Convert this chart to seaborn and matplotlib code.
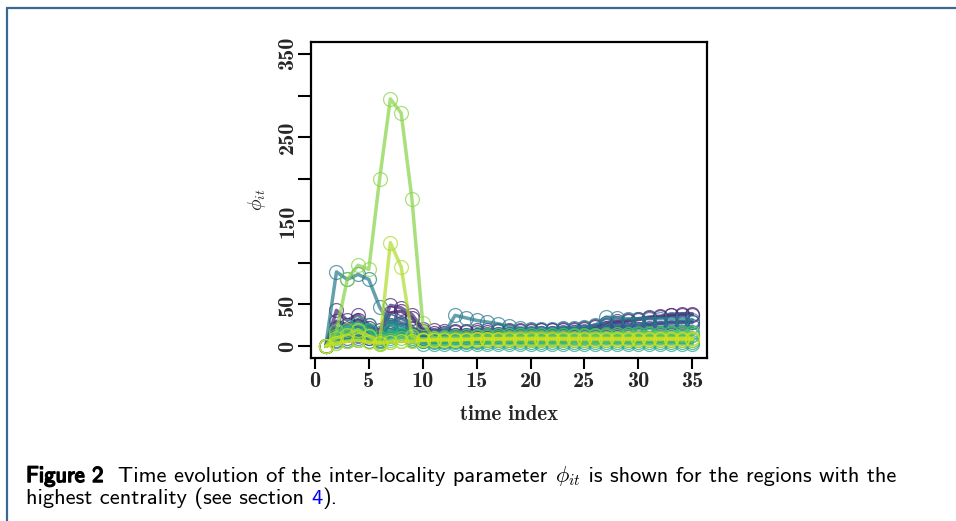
import numpy as np
import pandas as pd
import matplotlib
matplotlib.use("Agg")
import matplotlib.pyplot as plt
import matplotlib.patheffects as pe
from matplotlib.lines import Line2D
import seaborn as sns

# ---------------- data ----------------
time_index = list(range(1, 36))
r00 = [0,30,26,32,22,14,40,42,34,18,16,16,17,17,17,17,18,18,18,18,19,19,20,20,21,23,26,28,30,32,34,35,37,38,38]
r01 = [0,43,31,38,26,19,49,46,38,21,19,18,18,18,19,19,19,19,19,20,20,20,21,21,22,24,28,30,31,33,35,36,38,39,39]
r02 = [0,22,18,24,16,10,30,28,22,14,13,13,14,14,14,15,15,15,15,15,16,16,16,17,17,18,22,23,24,25,26,27,28,28,29]
r03 = [0,12,10,14,10,8,18,20,14,10,10,10,11,11,11,12,12,12,12,12,13,13,13,13,14,15,18,19,20,21,22,22,23,23,24]
r04 = [0,18,14,12,10,16,26,34,24,12,12,12,13,14,14,14,15,15,15,16,16,16,17,17,18,19,24,25,26,27,27,28,28,29,29]
r05 = [0,8,6,8,12,6,14,16,10,7,7,7,8,8,8,8,8,8,9,9,9,9,9,10,10,10,12,12,12,13,13,13,13,14,14]
r06 = [0,89,80,86,80,47,26,18,12,10,10,15,37,34,31,29,27,24,22,21,21,21,22,22,23,25,35,34,33,33,33,33,33,33,32]
r07 = [0,6,8,10,6,4,30,24,14,6,6,6,6,6,6,7,7,7,7,7,7,7,7,7,8,8,8,8,8,8,8,8,8,8,8]
r08 = [0,14,18,22,26,8,12,18,12,6,5,5,5,5,5,5,5,5,5,5,5,5,5,5,5,5,5,5,5,5,5,5,5,5,5]
r09 = [0,10,16,20,18,6,10,14,8,3,3,3,3,3,3,3,3,3,3,3,3,3,3,3,3,3,3,3,3,3,3,3,3,3,3]
r10 = [0,16,24,28,20,10,18,14,8,8,9,10,11,12,12,12,13,13,13,13,13,14,14,14,14,14,15,15,15,16,16,16,17,17,17]
r11 = [0,4,6,8,6,3,5,6,6,8,10,11,12,12,12,13,13,13,13,13,13,13,14,14,14,14,14,15,15,15,15,15,16,16,16]
r12 = [0,12,20,18,12,6,8,10,10,9,9,10,10,10,11,11,11,11,11,11,11,11,11,12,12,12,12,12,12,12,12,12,12,13,13]
r13 = [0,18,80,97,92,200,296,279,176,28,10,9,9,9,9,9,9,10,10,10,10,10,10,10,10,10,10,10,10,10,10,10,10,10,10]
r14 = [0,10,14,20,12,3,124,95,12,7,7,7,7,8,8,8,8,8,8,8,8,8,8,8,8,8,8,8,8,8,8,8,8,8,8]
r15 = [0,4,6,7,5,4,5,6,6,7,8,8,8,8,9,9,9,9,9,9,9,9,9,9,9,9,9,9,9,9,9,9,9,9,9]
series = [r00, r01, r02, r03, r04, r05, r06, r07, r08, r09, r10, r11, r12, r13, r14, r15]

x_ticks = [0, 5, 10, 15, 20, 25, 30, 35]
y_ticks = [0, 50, 100, 150, 200, 250, 300, 350]
y_ticklabels = ["0", "50", "", "150", "", "250", "", "350"]

# ---------------- figure ----------------
sns.set_style("white")
plt.rcParams["mathtext.fontset"] = "cm"
plt.rcParams["axes.unicode_minus"] = False

W, H = 956, 521
fig = plt.figure(figsize=(W / 100, H / 100), dpi=100)
ax = fig.add_axes([311 / W, 1 - 358 / H, 396 / W, 316 / H])

palette = sns.color_palette("viridis", len(series))
for vals, col in zip(series, palette):
    sns.lineplot(x=time_index, y=vals, ax=ax, color=col, lw=2.5, alpha=0.72,
                 marker="o", markersize=10, markerfacecolor="none",
                 markeredgecolor=col, markeredgewidth=0.9, legend=False)

ax.set_xlim(-0.36, 36.36)
ax.set_ylim(-14, 364)
for s in ax.spines.values():
    s.set_visible(True)
    s.set_color("black")
    s.set_linewidth(1.6)

tick_font = dict(family="cmb10", size=16)
ax.set_xticks(x_ticks)
ax.set_xticklabels([str(v) for v in x_ticks], fontdict=tick_font)
ax.set_yticks(y_ticks)
ax.set_yticklabels(y_ticklabels, fontdict=tick_font, rotation=90, va="center")
ax.tick_params(axis="x", bottom=True, direction="out", length=8, width=1.5, pad=2, color="black")
ax.tick_params(axis="y", left=True, direction="out", length=9.5, width=1.5, pad=0.5, color="black")
ax.set_xlabel("time index", fontdict=dict(family="cmb10", size=15), labelpad=10)
ax.set_ylabel(r"$\phi_{it}$", fontsize=14, labelpad=7)

# frame lines of the page box
fig.add_artist(Line2D([7 / W, 1.0], [1 - 8 / H, 1 - 8 / H], transform=fig.transFigure,
                      color="#3a6896", lw=1.6))
fig.add_artist(Line2D([7 / W, 7 / W], [0.0, 1 - 8 / H], transform=fig.transFigure,
                      color="#3a6896", lw=1.6))

# caption
fig.canvas.draw()
renderer = fig.canvas.get_renderer()

def put(parts, x0, y0):
    x = x0
    for txt, kw in parts:
        t = fig.text(x / W, 1 - y0 / H, txt, va="baseline", ha="left", **kw)
        bb = t.get_window_extent(renderer)
        x = x + bb.width
    return x

fs = 16.2
cap_kw = dict(family="cmss10", size=fs, color="black")
bold_kw = dict(family="cmss10", size=fs, color="black",
               path_effects=[pe.withStroke(linewidth=1.1, foreground="black")])
put([("Figure 2", bold_kw),
     ("  Time evolution of the inter-locality parameter ", cap_kw),
     (r"$\phi_{it}$", dict(size=fs, color="black")),
     (" is shown for the regions with the", cap_kw)], 26, 482)
put([("highest centrality (see section ", cap_kw),
     ("4", dict(family="cmss10", size=fs, color="#0000ee")),
     (").", cap_kw)], 26, 504)

fig.savefig("out.png", dpi=100)
